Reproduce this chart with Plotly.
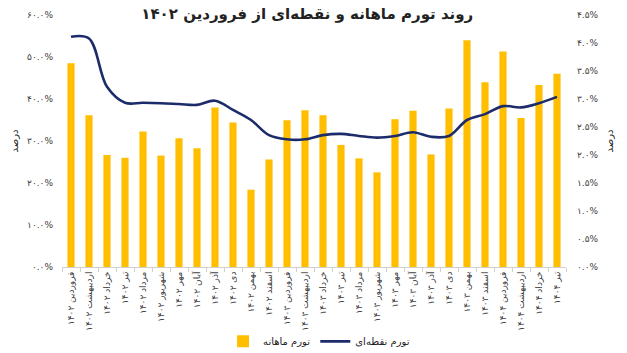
import plotly.graph_objects as go

months = ["فروردین", "اردیبهشت", "خرداد", "تیر", "مرداد", "شهریور",
          "مهر", "آبان", "آذر", "دی", "بهمن", "اسفند"]
years = ["۱۴۰۲", "۱۴۰۳", "۱۴۰۴"]
categories = [f"{m} {y}" for y in years for m in months][:28]

monthly = [3.64, 2.71, 2.00, 1.95, 2.42, 1.99, 2.30, 2.12, 2.85, 2.58, 1.38, 1.92,
           2.62, 2.80, 2.71, 2.18, 1.94, 1.69, 2.64, 2.79, 2.01, 2.83, 4.05, 3.30,
           3.85, 2.66, 3.25, 3.45]
point = [54.8, 54.4, 42.9, 39.1, 39.1, 39.0, 38.8, 38.6, 39.6, 37.4, 35.0, 31.4,
         30.4, 30.4, 31.4, 31.7, 31.2, 30.8, 31.2, 32.1, 31.0, 31.2, 35.0, 36.4,
         38.3, 38.0, 39.0, 40.5]

left_vals = [0, 10, 20, 30, 40, 50, 60]
left_text = ["۰.۰%", "۱۰.۰%", "۲۰.۰%", "۳۰.۰%", "۴۰.۰%", "۵۰.۰%", "۶۰.۰%"]
right_vals = [0, 0.5, 1, 1.5, 2, 2.5, 3, 3.5, 4, 4.5]
right_text = ["۰.۰%", "۰.۵%", "۱.۰%", "۱.۵%", "۲.۰%", "۲.۵%", "۳.۰%", "۳.۵%", "۴.۰%", "۴.۵%"]

FONT = "DejaVu Sans"
GOLD = "#FFBF00"
NAVY = "#1C2C6B"

fig = go.Figure()
fig.add_trace(go.Bar(x=categories, y=monthly, name="تورم ماهانه",
                     marker=dict(color=GOLD, line=dict(width=0)), yaxis="y"))
fig.add_trace(go.Scatter(x=categories, y=point, name="تورم نقطه‌ای", mode="lines",
                         line=dict(color=NAVY, width=2.6, shape="spline", smoothing=1.0),
                         yaxis="y2"))

fig.update_layout(
    width=627, height=353,
    margin=dict(l=62, r=61, t=15, b=86, autoexpand=False),
    paper_bgcolor="white", plot_bgcolor="white",
    font=dict(family=FONT, color="#404040", size=9),
    bargap=0.6,
    showlegend=True,
    title=dict(text="<b>روند تورم ماهانه و نقطه‌ای از فروردین ۱۴۰۲</b>",
               x=0.49, xanchor="center", y=0.962, yanchor="middle",
               font=dict(size=15, color="#222222", family=FONT)),
    legend=dict(orientation="h", x=0.51, xanchor="center", y=-0.295, yanchor="middle",
                font=dict(size=10, color="#222222"), bgcolor="rgba(0,0,0,0)",
                itemwidth=30),
    xaxis=dict(tickangle=-90, tickfont=dict(size=9, color="#404040"), automargin=False,
               showline=True, linecolor="#D0D0D0", linewidth=1,
               ticks="outside", tickson="boundaries", ticklen=4, tickcolor="#D0D0D0",
               showgrid=False),
    yaxis=dict(side="right", range=[0, 4.5], tickvals=right_vals, ticktext=right_text,
               showgrid=False, zeroline=False, ticks="", ticklabelstandoff=10,
               automargin=False,
               tickfont=dict(size=9, color="#404040"),
               title=dict(text="درصد", font=dict(size=10, color="#222222"), standoff=8)),
    yaxis2=dict(side="left", overlaying="y", range=[0, 60], tickvals=left_vals,
                ticktext=left_text, showgrid=False, zeroline=False, ticks="",
                ticklabelstandoff=8, automargin=False,
                tickfont=dict(size=9, color="#404040"),
                title=dict(text="درصد", font=dict(size=10, color="#222222"), standoff=6)),
)

fig.write_html("out.html")
